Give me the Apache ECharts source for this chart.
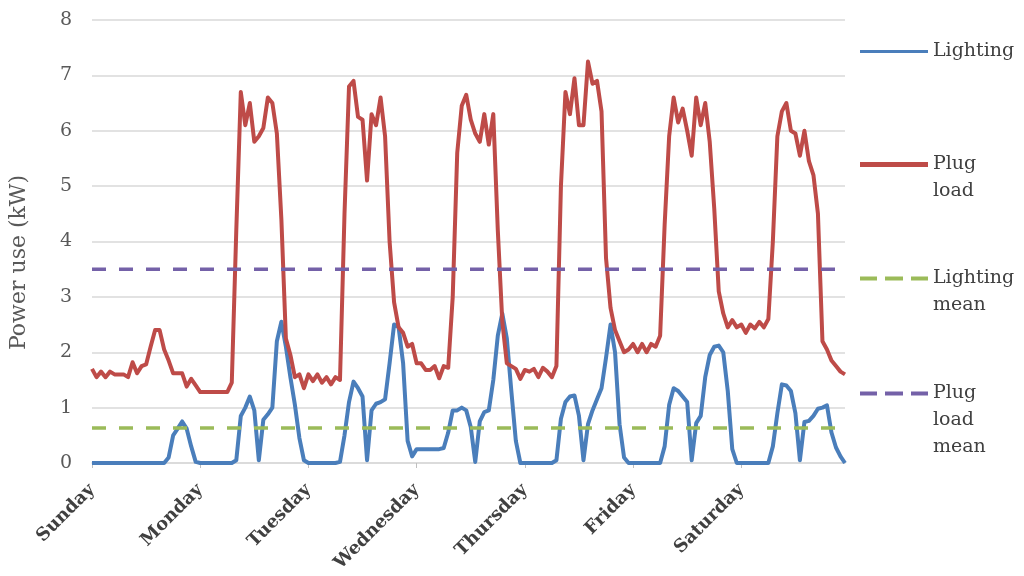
<!DOCTYPE html>
<html>
<head>
<meta charset="utf-8">
<script src="https://cdn.jsdelivr.net/npm/echarts@6/dist/echarts.min.js"></script>
<style>
html,body{margin:0;padding:0;background:#fff;}
#chart{width:1024px;height:576px;}
</style>
</head>
<body>
<div id="chart"></div>
<script>
// Day names (tick labels at the start of each day)
const days = ['Sunday','Monday','Tuesday','Wednesday','Thursday','Friday','Saturday'];
const hoursPerDay = 24;

// Hourly lighting power (kW), Sunday 00:00 .. Saturday 23:00
const lighting = [
  // Sunday
  0,0,0,0,0,0,0,0,0,0,0,0,0,0,0,0,0,0.1,0.5,0.62,0.75,0.62,0.3,0.02,
  // Monday
  0,0,0,0,0,0,0,0,0.05,0.85,1.0,1.2,0.95,0.05,0.78,0.88,1.0,2.2,2.55,2.1,1.55,1.05,0.45,0.05,
  // Tuesday
  0,0,0,0,0,0,0,0.02,0.5,1.1,1.47,1.35,1.2,0.05,0.95,1.07,1.1,1.15,1.8,2.5,2.45,1.8,0.4,0.12,
  // Wednesday
  0.25,0.25,0.25,0.25,0.25,0.25,0.27,0.55,0.95,0.95,1.0,0.95,0.65,0.02,0.75,0.92,0.95,1.5,2.3,2.7,2.25,1.3,0.4,0,
  // Thursday
  0,0,0,0,0,0,0,0.05,0.8,1.1,1.2,1.22,0.85,0.05,0.7,0.95,1.15,1.35,1.9,2.5,2.0,0.7,0.1,0,
  // Friday
  0,0,0,0,0,0,0,0.3,1.05,1.35,1.3,1.2,1.1,0.05,0.72,0.85,1.55,1.95,2.1,2.12,2.0,1.3,0.25,0,
  // Saturday
  0,0,0,0,0,0,0,0.3,0.9,1.42,1.4,1.3,0.9,0.05,0.74,0.76,0.85,0.98,1.0,1.04,0.55,0.28,0.12,0
];

// Hourly plug load power (kW)
const plugLoad = [
  // Sunday
  1.7,1.55,1.65,1.55,1.65,1.6,1.6,1.6,1.55,1.82,1.62,1.75,1.78,2.1,2.4,2.4,2.05,1.85,1.62,1.62,1.62,1.38,1.52,1.4,
  // Monday
  1.28,1.28,1.28,1.28,1.28,1.28,1.28,1.45,4.2,6.7,6.1,6.5,5.8,5.9,6.05,6.6,6.5,5.95,4.4,2.25,1.95,1.55,1.6,1.35,
  // Tuesday
  1.6,1.48,1.6,1.45,1.55,1.42,1.55,1.5,4.5,6.8,6.9,6.25,6.2,5.1,6.3,6.1,6.6,5.9,4.0,2.9,2.45,2.35,2.1,2.15,
  // Wednesday
  1.8,1.8,1.68,1.68,1.75,1.53,1.75,1.72,3.0,5.6,6.45,6.65,6.2,5.95,5.8,6.3,5.75,6.3,4.2,2.55,1.8,1.75,1.7,1.52,
  // Thursday
  1.68,1.65,1.7,1.55,1.72,1.65,1.55,1.75,5.0,6.7,6.3,6.95,6.1,6.1,7.25,6.85,6.9,6.35,3.7,2.8,2.4,2.2,2.0,2.05,
  // Friday
  2.15,2.0,2.15,2.0,2.15,2.1,2.3,4.3,5.9,6.6,6.15,6.4,6.0,5.55,6.6,6.1,6.5,5.8,4.6,3.1,2.7,2.45,2.58,2.45,
  // Saturday
  2.5,2.35,2.5,2.43,2.55,2.45,2.6,4.0,5.9,6.35,6.5,6.0,5.95,5.55,6.0,5.45,5.2,4.5,2.2,2.05,1.85,1.75,1.65,1.6
];

const lightingMean = 0.63;
const plugLoadMean = 3.5;

const seriesNames = ['Lighting','Plug load','Lighting mean','Plug load mean'];
// blank leading lines keep the icon level with the first line of text
const legendLabels = ['Lighting',' \nPlug\nload',' \nLighting\nmean',' \n \nPlug\nload\nmean'];
const colors = ['#4A7EBB','#BE4B48','#9BBB59','#7461A8'];

// categories: one per hour
const categories = [];
days.forEach(d => { for (let h = 0; h < hoursPerDay; h++) categories.push(d + ' ' + h); });
const meanLight = categories.map(() => lightingMean);
const meanPlug = categories.map(() => plugLoadMean);

const font = 'DejaVu Serif';
const legendTops = [38, 124, 238, 326];
const legendIcons = [
  'path://M0,0h68v3h-68z',
  'path://M0,0h68v5h-68z',
  'path://M0,0h17v4h-17z M25,0h18v4h-18z M51,0h17v4h-17z',
  'path://M0,0h17v4h-17z M25,0h18v4h-18z M51,0h17v4h-17z'
];
const legendIconH = [3, 5, 4, 4];

const chart = echarts.init(document.getElementById('chart'), null, {renderer:'canvas'});
chart.setOption({
  animation: false,
  backgroundColor: '#ffffff',
  grid: {left: 92, right: 179, top: 20, bottom: 113, containLabel: false},
  legend: seriesNames.map((n, i) => ({
    data: [n],
    left: 860,
    top: legendTops[i],
    padding: 0,
    icon: legendIcons[i],
    itemWidth: 68,
    itemHeight: legendIconH[i],
    itemGap: 0,
    selectedMode: false,
    formatter: () => legendLabels[i],
    textStyle: {fontFamily: font, fontSize: 19, color: '#404040', lineHeight: 27}
  })),
  xAxis: {
    type: 'category',
    data: categories,
    boundaryGap: false,
    axisLine: {lineStyle: {color: '#d9d9d9', width: 1.5}},
    axisTick: {show: true, interval: hoursPerDay - 1, length: 5, lineStyle: {color: '#bfbfbf'}},
    axisLabel: {
      interval: hoursPerDay - 1,
      rotate: 45,
      margin: 24,
      fontFamily: font,
      fontWeight: 'bold',
      fontSize: 18,
      color: '#404040',
      formatter: v => v.split(' ')[0]
    },
    splitLine: {show: false}
  },
  yAxis: {
    type: 'value',
    min: 0, max: 8, interval: 1,
    name: 'Power use (kW)',
    nameLocation: 'middle',
    nameGap: 62,
    nameTextStyle: {fontFamily: font, fontSize: 22, color: '#595959', padding: [0, 42, 0, 0]},
    axisLine: {show: false},
    axisTick: {show: false},
    axisLabel: {fontFamily: font, fontSize: 19, color: '#595959', margin: 20},
    splitLine: {lineStyle: {color: '#d9d9d9', width: 1.5}}
  },
  series: [
    {name: seriesNames[0], type: 'line', data: lighting, symbol: 'none', color: colors[0],
     lineStyle: {color: colors[0], width: 4, join: 'round'}, z: 2},
    {name: seriesNames[1], type: 'line', data: plugLoad, symbol: 'none', color: colors[1],
     lineStyle: {color: colors[1], width: 4, join: 'round'}, z: 3},
    {name: seriesNames[2], type: 'line', data: meanLight, symbol: 'none', color: colors[2],
     lineStyle: {color: colors[2], width: 3.5, type: [14, 13]}, z: 4},
    {name: seriesNames[3], type: 'line', data: meanPlug, symbol: 'none', color: colors[3],
     lineStyle: {color: colors[3], width: 3.5, type: [14, 13]}, z: 5}
  ]
});
</script>
</body>
</html>
